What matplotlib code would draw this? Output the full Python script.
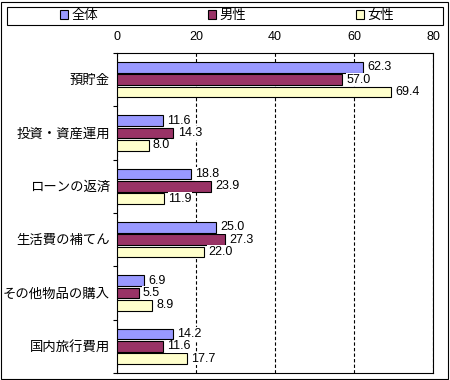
import numpy as np
import matplotlib.pyplot as plt
from matplotlib.patches import Rectangle
from matplotlib.ticker import FixedLocator

plt.rcParams['font.family'] = ['Liberation Sans', 'Noto Sans CJK JP']
plt.rcParams['font.size'] = 9

categories = ['預貯金', '投資・資産運用', 'ローンの返済', '生活費の補てん', 'その他物品の購入', '国内旅行費用']
series_names = ['全体', '男性', '女性']
zentai = [62.3, 11.6, 18.8, 25.0, 6.9, 14.2]
dansei = [57.0, 14.3, 23.9, 27.3, 5.5, 11.6]
josei = [69.4, 8.0, 11.9, 22.0, 8.9, 17.7]
x_ticks = [0, 20, 40, 60, 80]

colors = ['#9999FF', '#993366', '#FFFFCC']

fig = plt.figure(figsize=(4.5, 3.8), dpi=100)
ax = fig.add_axes([117/450, 1 - 373/380, 316/450, 320/380])

y = np.arange(len(categories))
pitch = 0.23
h = 0.2
for k, (vals, col, name) in enumerate(zip([zentai, dansei, josei], colors, series_names)):
    pos = y + (k - 1) * pitch
    ax.barh(pos, vals, height=h, color=col, edgecolor='black', linewidth=0.8, label=name, zorder=3)
    for p, v in zip(pos, vals):
        ax.annotate(f'{v:.1f}', (v, p), xytext=(3, 0), textcoords='offset points',
                    ha='left', va='center', fontsize=9, zorder=4,
                    bbox=dict(boxstyle='square,pad=0.05', fc='white', ec='none'))

ax.set_xlim(0, 80)
ax.set_ylim(len(categories) - 0.5, -0.5)
ax.set_xticks(x_ticks)
ax.xaxis.tick_top()
ax.tick_params(axis='x', length=0, pad=7, labelsize=9)
ax.set_yticks(y)
ax.set_yticklabels(categories, fontsize=9.6)
ax.tick_params(axis='y', which='major', length=0, pad=5)
ax.yaxis.set_minor_locator(FixedLocator(np.arange(len(categories) + 1) - 0.5))
ax.tick_params(axis='y', which='minor', length=3, width=0.8, direction='out')
ax.xaxis.grid(True, color='black', linestyle=(0, (3, 2)), linewidth=0.8, zorder=1)
for s in ax.spines.values():
    s.set_linewidth(0.8)
    s.set_color('black')

# legend box across the top
fig.patches.append(Rectangle((7/450, 1 - 25/380), 436/450, 18/380, transform=fig.transFigure,
                             fill=False, edgecolor='black', linewidth=0.8))
handles, labels = ax.get_legend_handles_labels()
fig.legend(handles, labels, ncol=3, loc='center', bbox_to_anchor=(227/450, 1 - 16/380),
           frameon=False, fontsize=9.6, handlelength=0.6, handleheight=0.6,
           handletextpad=0.3, columnspacing=8.2, borderpad=0)

# outer border
fig.patches.append(Rectangle((1/450, 1/380), 447/450, 377/380, transform=fig.transFigure,
                             fill=False, edgecolor='black', linewidth=0.8))

fig.savefig('out.png', dpi=100)
